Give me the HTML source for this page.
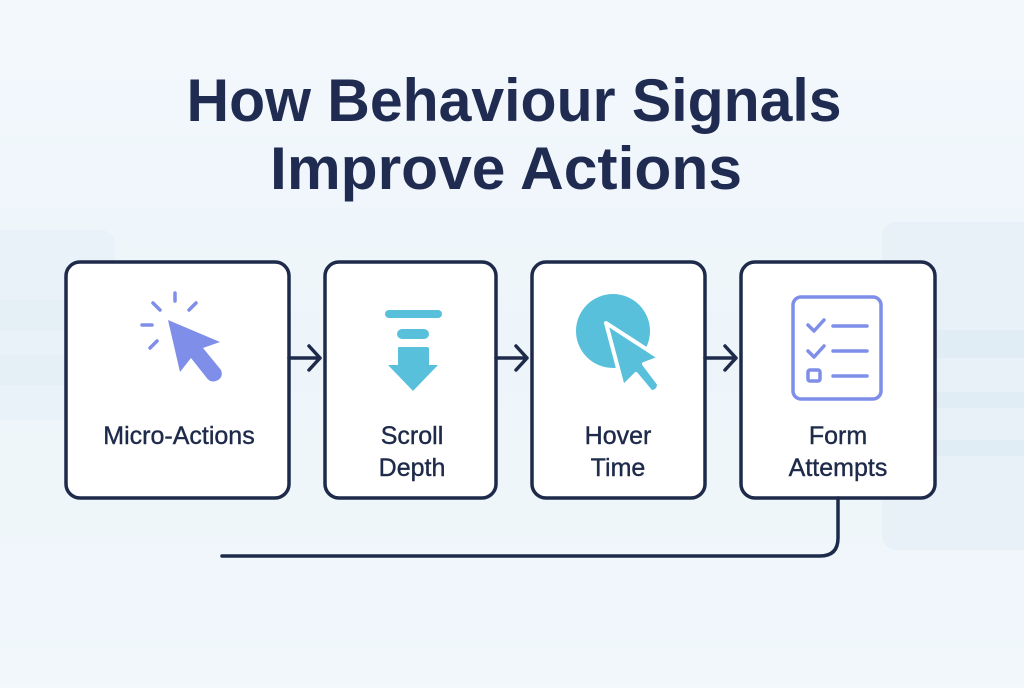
<!DOCTYPE html>
<html><head><meta charset="utf-8"><style>
html,body{margin:0;padding:0;}
body{width:1024px;height:683px;overflow:hidden;background:linear-gradient(180deg,#f3f8fc 0%,#edf5fa 50%,#f1f7fb 100%);font-family:"Liberation Sans",sans-serif;}
</style></head><body>
<svg width="1024" height="683" viewBox="0 0 1024 683" xmlns="http://www.w3.org/2000/svg">
<rect x="-20" y="230" width="135" height="190" rx="14" fill="#e9f2f8"/>
<rect x="0" y="300" width="115" height="30" fill="#e4eff6"/>
<rect x="0" y="355" width="115" height="30" fill="#e4eff6"/>
<rect x="882" y="222" width="160" height="328" rx="14" fill="#e7f1f7"/>
<rect x="930" y="330" width="100" height="28" fill="#e1edf5"/>
<rect x="930" y="392" width="100" height="16" fill="#e1edf5"/>
<rect x="930" y="440" width="100" height="16" fill="#e1edf5"/>
<g font-family="Liberation Sans, sans-serif" font-weight="bold" fill="#1f2b50" text-anchor="middle" font-size="60">
<text x="514" y="121" textLength="655" lengthAdjust="spacingAndGlyphs">How Behaviour Signals</text>
<text x="506" y="189" textLength="472" lengthAdjust="spacingAndGlyphs">Improve Actions</text>
</g>
<g fill="#fff" stroke="#1e2a4a" stroke-width="3.5">
<rect x="66" y="262" width="223" height="236" rx="14"/>
<rect x="325" y="262" width="171" height="236" rx="14"/>
<rect x="532" y="262" width="173" height="236" rx="14"/>
<rect x="741" y="262" width="194" height="236" rx="14"/>
</g>
<g stroke="#1e2a4a" stroke-width="3.5" fill="none" stroke-linecap="round" stroke-linejoin="round">
<path d="M289 358H320M309 346L320 358L309 370"/>
<path d="M496 358H527M516 346L527 358L516 370"/>
<path d="M705 358H736M725 346L736 358L725 370"/>
<path d="M838 498V538Q838 556 820 556H222"/>
</g>
<g stroke="#7f8ee8" stroke-width="3.5" stroke-linecap="round">
<path d="M175 293V301M153 303L160 310M196 303L189 310M142 325H152M150 348L157 341"/>
</g>
<path d="M168 320L220 342L203 348L221 370Q224 378 216 381Q210 383 206 377L191 358L180 372Z" fill="#7f8ee8"/>
<g fill="#58c0db">
<rect x="385" y="310" width="57" height="8" rx="4"/>
<rect x="397" y="329" width="32" height="10" rx="5"/>
<path d="M398 348Q398 347 399 347H427Q429 347 429 349V365H438L413 391L388 365H398Z"/>
</g>
<circle cx="613" cy="331" r="37" fill="#58c0db"/>
<path d="M606 323L660 358L644 364L659 384Q659 392 651 392L636 374L623 387Z" fill="#58c0db" stroke="#fff" stroke-width="4" stroke-linejoin="round"/>
<g stroke="#7f8ee8" stroke-width="3.5" fill="none" stroke-linecap="round" stroke-linejoin="round">
<rect x="793" y="297" width="88" height="102" rx="8"/>
<path d="M808 325L814 331L824 320M833 326H867"/>
<path d="M808 351L814 357L824 346M833 351H867"/>
<rect x="808" y="370" width="12" height="11" rx="2"/>
<path d="M833 376H867"/>
</g>
<g font-family="Liberation Sans, sans-serif" fill="#1e2a4a" text-anchor="middle" font-size="25" stroke="#1e2a4a" stroke-width="0.4">
<text x="179" y="444">Micro-Actions</text>
<text x="412" y="444">Scroll</text>
<text x="412" y="476">Depth</text>
<text x="618" y="444">Hover</text>
<text x="618" y="476">Time</text>
<text x="838" y="444">Form</text>
<text x="838" y="476">Attempts</text>
</g>
</svg>
</body></html>
